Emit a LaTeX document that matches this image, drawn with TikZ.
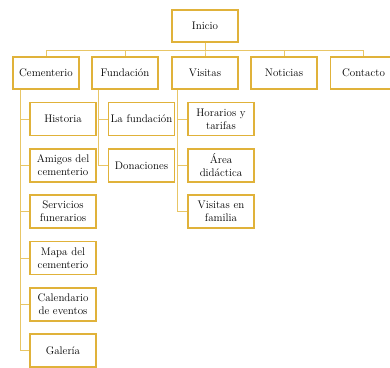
\documentclass[tikz,border=0pt]{standalone}
\begin{document}
\definecolor{boxgold}{HTML}{E0B23A}
\definecolor{linegold}{HTML}{E8C666}
\begin{tikzpicture}[x=1pt,y=-1pt,
  box/.style={draw=boxgold,line width=1.4pt,fill=white,rectangle,minimum width=66pt,minimum height=32pt,inner sep=1pt,align=center,text width=64pt,font=\fontsize{11}{13}\selectfont},
  kid/.style={box,minimum height=33pt},
  conn/.style={draw=linegold,line width=0.9pt}]
\useasboundingbox (0,0) rectangle (390,367);
\clip (0,0) rectangle (390,367);
\fill[white] (0,0) rectangle (390,367);
% level 0 and 1
\node[box] (ini) at (205,26) {Inicio};
\node[box] (cem) at (46,73) {Cementerio};
\node[box] (fun) at (125,73) {Fundación};
\node[box] (vis) at (205,73) {Visitas};
\node[box] (not) at (284,73) {Noticias};
\node[box] (con) at (363.5,73) {Contacto};
% children of Cementerio
\node[kid] (his) at (63,119) {Historia};
\node[kid] (ami) at (63,165.5) {Amigos del\\cementerio};
\node[kid] (ser) at (63,211.5) {Servicios\\funerarios};
\node[kid] (map) at (63,258) {Mapa del\\cementerio};
\node[kid] (cal) at (63,304.5) {Calendario\\de eventos};
\node[kid] (gal) at (63,350.5) {Galería};
% children of Fundación
\node[kid] (laf) at (141.5,119) {La fundación};
\node[kid] (don) at (141.5,165.5) {Donaciones};
% children of Visitas
\node[kid] (hor) at (221,119) {Horarios y\\tarifas};
\node[kid] (are) at (221,165.5) {Área\\didáctica};
\node[kid] (vfa) at (221,211.5) {Visitas en\\familia};
% connectors
\begin{scope}[on background layer/.try]
\end{scope}
\foreach \n in {cem,fun,vis,not,con}{
  \path[conn] (ini.south) -- ++(0,8) -| (\n.north);
}
\foreach \n in {his,ami,ser,map,cal,gal}{
  \path[conn] (cem.south west) ++(8,0) |- (\n.west);
}
\foreach \n in {laf,don}{
  \path[conn] (fun.south west) ++(7,0) |- (\n.west);
}
\foreach \n in {hor,are,vfa}{
  \path[conn] (vis.south west) ++(6,0) |- (\n.west);
}
\end{tikzpicture}
\end{document}
